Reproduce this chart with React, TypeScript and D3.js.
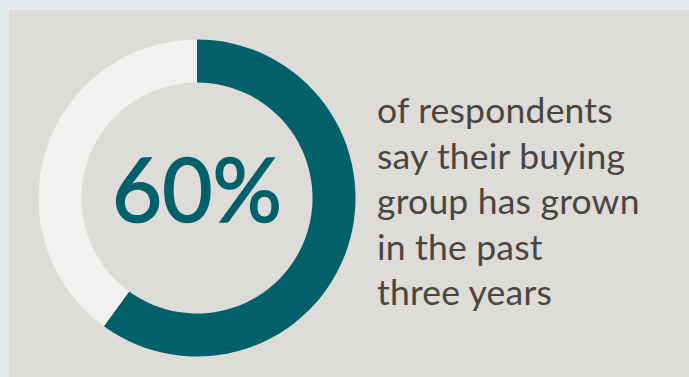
import React from "react";
import * as d3 from "d3";

const segments = ["Grown", "Other"];
const values = [60, 40];
const headline = "60%";
const captionLines = ["of respondents", "say their buying", "group has grown", "in the past", "three years"];
const colors = ["#02606b", "#f1f1ef"];

export default function App() {
  const W = 689, H = 377;
  const cx = 197, cy = 198;
  const outerR = 158.5, innerR = 115.5;
  const pie = d3.pie<number>().sort(null).value((d) => d)(values);
  const arc = d3.arc<d3.PieArcDatum<number>>().innerRadius(innerR).outerRadius(outerR);
  const lineY = d3.scaleLinear().domain([0, captionLines.length - 1]).range([123, 305]);
  return (
    <svg width={W} height={H} style={{ position: "absolute", left: 0, top: 0 }}>
      <rect x={0} y={0} width={W} height={H} fill="#e2ecec" />
      <rect x={9} y={10} width={W - 9} height={H - 10} fill="#dddcd8" />
      <g transform={`translate(${cx},${cy})`}>
        {pie.map((p, i) => (
          <path key={segments[i]} d={arc(p) || ""} fill={colors[i]} />
        ))}
      </g>
      <text x={cx} y={222} textAnchor="middle" fontFamily="Lato, sans-serif" fontSize={90} fill="#02606b" stroke="#02606b" strokeWidth={1.6} textLength={170} lengthAdjust="spacingAndGlyphs">
        {headline}
      </text>
      {captionLines.map((l, i) => (
        <text key={i} x={377} y={lineY(i)} fontFamily="Lato, sans-serif" fontSize={35.5} fill="#4a4541" letterSpacing={0.2}>
          {l}
        </text>
      ))}
    </svg>
  );
}
